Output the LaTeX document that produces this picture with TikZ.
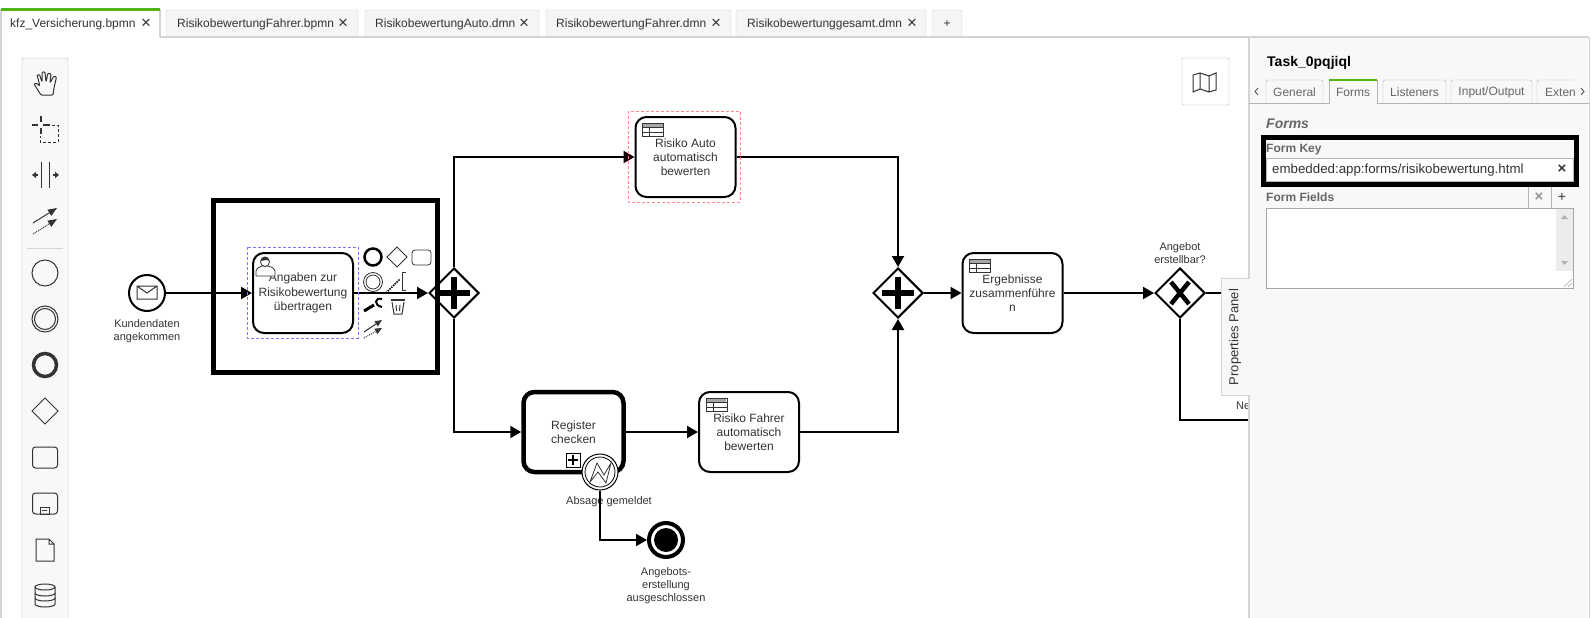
\documentclass[tikz,border=0pt]{standalone}
\usepackage{fontspec}
\setmainfont{Liberation Sans}
\usetikzlibrary{shapes.geometric,arrows.meta,positioning,calc}

\definecolor{bordergray}{HTML}{D4D4D4}
\definecolor{panelgray}{HTML}{F8F8F8}
\definecolor{tabgray}{HTML}{F5F5F5}
\definecolor{labelgray}{HTML}{666666}
\definecolor{textdark}{HTML}{333333}
\definecolor{tabgreen}{HTML}{52B415}
\definecolor{framered}{HTML}{FF8A8A}
\definecolor{frameblue}{HTML}{7A7AF5}

\begin{document}
\begin{tikzpicture}[
    x=1pt, y=-1pt,
    >={Triangle[length=11pt,width=12pt]},
    txt/.style={font=\fontsize{12}{14.2}\selectfont, text=textdark, align=center, inner sep=0pt},
    small/.style={font=\fontsize{11}{13.3}\selectfont, text=textdark, align=center, inner sep=0pt},
    task/.style={txt, rectangle, draw=black, fill=white, line width=2pt, rounded corners=11pt, minimum width=100pt, minimum height=80pt},
    gateway/.style={diamond, aspect=1, draw=black, fill=white, line width=2pt, minimum size=50pt, inner sep=0pt},
    event/.style={circle, draw=black, fill=white, line width=2pt, minimum size=36pt, inner sep=0pt},
    flow/.style={->, line width=2pt},
    filetab/.style={font=\fontsize{12}{14}\selectfont, text=textdark, anchor=west, inner sep=0pt},
    closex/.style={font=\fontsize{17}{17}\selectfont, text=textdark, anchor=center, inner sep=0pt},
    tool/.style={draw=textdark, line width=1pt},
    marker/.style={line width=6.5pt, draw=black},
    panellabel/.style={font=\fontsize{12}{14}\selectfont\bfseries, text=labelgray, anchor=west, inner sep=0pt},
    paneltab/.style={font=\fontsize{12}{14}\selectfont, text=labelgray, inner sep=0pt}
]
\useasboundingbox (0,0) rectangle (1595,618);
\clip (0,0) rectangle (1595,618);
\fill[white] (0,0) rectangle (1595,618);

% File tabs
\foreach \tabname/\xa/\xb/\xt/\xc/\tabtext in {
    tabfahrer/166/358/177/343/RisikobewertungFahrer.bpmn,
    tabauto/365/539/375/524/RisikobewertungAuto.dmn,
    tabfahrerdmn/546/731/556/716/RisikobewertungFahrer.dmn,
    tabgesamt/736/926/747/912/Risikobewertunggesamt.dmn} {
  \draw[bordergray, fill=tabgray, rounded corners=1.5pt] (\xa,37) -- (\xa,10) -- (\xb,10) -- (\xb,37);
  \node[filetab] (\tabname) at (\xt,24) {\tabtext};
  \node[closex] (\tabname x) at (\xc,24) {×};
}
\draw[bordergray, fill=tabgray, rounded corners=1.5pt] (932,37) -- (932,10) -- (962,10) -- (962,37);
\node[filetab, anchor=center] (tabplus) at (947,24) {+};
\draw[bordergray, line width=1.5pt] (1,37) -- (1589,37);
\draw[bordergray, line width=1.5pt, fill=white] (1,618) -- (1,10) -- (160,10) -- (160,37);
\fill[white] (1.8,11) rectangle (159.2,39);
\fill[tabgreen] (1,8) rectangle (160,11);
\node[filetab] (tabmain) at (10,24) {kfz\_Versicherung.bpmn};
\node[closex] (tabmainx) at (146,24) {×};

% Tool palette
\draw[bordergray!85!black, fill=panelgray, rounded corners=1pt] (22,640) -- (22,58) -- (68,58) -- (68,640);
\draw[bordergray] (27,248) -- (63,248);
\draw[tool, line join=round, rounded corners=1pt] (41,95) -- (34,84) -- (36,83) -- (40,86) -- (37,75) -- (39.5,74.5) -- (42,82) -- (42,72) -- (45,72) -- (46,82) -- (48,73) -- (51,74) -- (50,83) -- (54,76) -- (56.5,77) -- (54,88) -- (53,95) -- cycle;
\draw[textdark, line width=2pt] (32,125) -- (38,125) (43,125) -- (50,125) (41,116) -- (41,122) (41,128) -- (41,134);
\draw[textdark, densely dashed] (47,125) -- (58,125) -- (58,142) -- (40,142) -- (40,136);
\draw[textdark] (41.5,162) -- (41.5,188) (49,162) -- (49,188);
\draw[-{Triangle[length=4pt,width=6pt]}, textdark, line width=1.3pt] (38,175) -- (32,175);
\draw[-{Triangle[length=4pt,width=6pt]}, textdark, line width=1.3pt] (53,175) -- (59,175);
\draw[-{Triangle[length=9pt,width=7pt]}, textdark, line width=1pt] (33,223) -- (57,208);
\draw[-{Triangle[length=9pt,width=7pt]}, textdark, line width=1pt, densely dotted] (33,234) -- (57,219);
\draw[tool] (45,273) circle (13);
\draw[tool] (45,319) circle (13) (45,319) circle (10.5);
\draw[textdark, line width=3.5pt] (45,365) circle (11.5);
\draw[tool] (45,398) -- (58,411) -- (45,424) -- (32,411) -- cycle;
\draw[tool, rounded corners=3pt] (32.5,447) rectangle (57.5,468);
\draw[tool, rounded corners=3pt] (32.5,493) rectangle (57.5,514);
\draw[tool] (40,507) rectangle (49,514) (42,510.5) -- (47,510.5);
\draw[tool] (36,539) -- (49,539) -- (54,544) -- (54,561) -- (36,561) -- cycle (49,539) -- (49,544) -- (54,544);
\draw[tool] (35,587) arc[start angle=180, end angle=0, x radius=10, y radius=-3] -- (55,604) arc[start angle=0, end angle=-180, x radius=10, y radius=-3] -- cycle;
\draw[tool] (35,587) arc[start angle=180, end angle=360, x radius=10, y radius=-3] (35,593) arc[start angle=180, end angle=360, x radius=10, y radius=-3] (35,598) arc[start angle=180, end angle=360, x radius=10, y radius=-3];

% Map button
\draw[bordergray!85!black, fill=white, rounded corners=1pt] (1182,58) rectangle (1229,105);
\draw[textdark, line width=1pt] (1193,75) -- (1200,73) -- (1209,76) -- (1216,73) -- (1216,90) -- (1209,92) -- (1200,89) -- (1193,92) -- cycle (1200,73) -- (1200,89) (1209,76) -- (1209,92);

% Nodes
\node[event] (start) at (147,293) {};
\node[small, below=7pt of start] (startlabel) {Kundendaten\\angekommen};
\node[task] (taskangaben) at (303,293) {Angaben zur\\Risikobewertung\\übertragen};
\node[gateway] (gwsplit) at (454,293) {};
\node[task] (taskauto) at (685.5,157) {Risiko Auto\\automatisch\\bewerten};
\node[task, line width=4.5pt] (taskregister) at (573.5,432) {Register\\checken};
\node[task] (taskfahrer) at (749,432) {Risiko Fahrer\\automatisch\\bewerten};
\node[gateway] (gwjoin) at (898,293) {};
\node[task] (taskergebnis) at (1012.5,293) {Ergebnisse\\zusammenführe\\n};
\node[gateway] (gwangebot) at (1180,293) {};
\node[small, above=3pt of gwangebot] (angebotlabel) {Angebot\\erstellbar?};
\node[event, line width=4pt, minimum size=34pt] (endevent) at (666,540) {};
\node[small, below=8pt of endevent] (endlabel) {Angebots-\\erstellung\\ausgeschlossen};
\node[small] (boundarylabel) at (609,502) {Absage gemeldet};
\coordinate (angebotyes) at (1230,293);
\coordinate (angebotno) at (1255,420);
\node[small, anchor=west] (nolabel) at (1236,406) {Ne};

% Sequence flows
\draw[flow] (start) -- (taskangaben);
\draw[flow] (taskangaben) -- (gwsplit);
\draw[flow] (gwsplit) |- (taskauto);
\draw[flow] (gwsplit) |- (taskregister);
\draw[flow] (taskregister) -- (taskfahrer);
\draw[flow] (taskauto) -| (gwjoin);
\draw[flow] (taskfahrer) -| (gwjoin);
\draw[flow] (gwjoin) -- (taskergebnis);
\draw[flow] (taskergebnis) -- (gwangebot);
\draw[line width=2pt] (gwangebot) -- (angebotyes);
\draw[line width=2pt] (gwangebot) |- (angebotno);

% Gateway markers
\draw[marker] ([yshift=-16pt]gwsplit.center) -- ([yshift=16pt]gwsplit.center) ([xshift=-16pt]gwsplit.center) -- ([xshift=16pt]gwsplit.center);
\draw[marker] ([yshift=-16pt]gwjoin.center) -- ([yshift=16pt]gwjoin.center) ([xshift=-16pt]gwjoin.center) -- ([xshift=16pt]gwjoin.center);
\draw[marker, line width=4.5pt] ($(gwangebot.center)+(-9,-11)$) -- ($(gwangebot.center)+(9,11)$) ($(gwangebot.center)+(9,-11)$) -- ($(gwangebot.center)+(-9,11)$);

% Start event and end event
\draw[line width=1pt, textdark] (137,286) rectangle (157,299) (137,286) -- (147,293) -- (157,286);
\fill[black] (endevent.center) circle (12);

% Decision table icons
\foreach \t in {taskauto,taskfahrer,taskergebnis} {
  \fill[gray!70] ([shift={(8,7)}]\t.north west) rectangle ([shift={(28,11)}]\t.north west);
  \draw[textdark, line width=1pt] ([shift={(8,7)}]\t.north west) rectangle ([shift={(29,20)}]\t.north west)
    ([shift={(8,11.5)}]\t.north west) -- ([shift={(29,11.5)}]\t.north west)
    ([shift={(8,16)}]\t.north west) -- ([shift={(29,16)}]\t.north west)
    ([shift={(15,11.5)}]\t.north west) -- ([shift={(15,20)}]\t.north west);
}

% User icon
\draw[textdark, line width=.8pt, fill=white] (256,276) -- (256,271) .. controls (257,267) and (261,267) .. (262,266) -- (268,266) .. controls (270,267) and (274,267) .. (275,271) -- (275,276) -- cycle;
\draw[textdark, line width=.8pt, fill=white] (265,262) circle (4.5);
\fill[textdark] (260.5,261) arc[start angle=180, end angle=360, radius=4.5] -- (267,260) -- cycle;

% Selection frames
\draw[frameblue, dash pattern=on 3pt off 2pt] (247,247) rectangle (358,338);
\draw[framered, dash pattern=on 3pt off 2pt] (628,111) rectangle (740,202);

% Context pad
\draw[black, line width=2.5pt, fill=white] (373,257) circle (8.5);
\draw[textdark, fill=white, line width=.8pt] (397,247) -- (407,257) -- (397,267) -- (387,257) -- cycle;
\draw[textdark, fill=white, line width=.8pt, rounded corners=3pt] (412,250) rectangle (431,265);
\draw[textdark, fill=white, line width=.8pt] (373,282) circle (9.5) (373,282) circle (7);
\draw[black, line width=1.5pt, densely dotted] (386,293) -- (400,279);
\draw[textdark, line width=1pt] (406,272) -- (402,272) -- (402,290) -- (406,290);
\draw[black, line width=3pt] (364,311) -- (374,305);
\draw[black, line width=2pt] (382,299) .. controls (375,297) and (373,305) .. (382,307);
\draw[textdark, line width=1pt] (392,302) -- (394,314) -- (402,314) -- (404,302) (396,305) -- (396.5,311) (400,305) -- (399.5,311);
\fill[textdark] (391,299) rectangle (405,301);
\draw[-{Triangle[length=7pt,width=6pt]}, textdark, line width=1pt] (364,332) -- (382,320);
\draw[-{Triangle[length=7pt,width=6pt]}, textdark, line width=1pt, densely dotted] (364,338) -- (382,328);

% Highlight around the first task
\draw[black, line width=5pt] (213.5,200) rectangle (437,372);

% Register checken with its boundary event
\draw[black, line width=1pt, fill=white] (566,453) rectangle (580,467);
\draw[black, line width=1.5pt] (568,460) -- (578,460) (573,455) -- (573,465);
\node[event, line width=1pt] (boundary) at (600,472) {};
\draw[black, line width=.8pt] (boundary.center) circle (15);
\draw[textdark, line width=.8pt] (590,482) -- (597,463) -- (604,475) -- (611,463) -- (606,483) -- (598,472) -- cycle;
\draw[flow] (boundary) |- (endevent);

% Properties panel
\fill[panelgray] (1249,38) rectangle (1589,640);
\draw[bordergray, line width=1.5pt] (1249,37) -- (1249,640);
\draw[bordergray, line width=1pt] (1589,37) -- (1589,640);
\draw[bordergray, fill=panelgray] (1249,278) -- (1221,278) -- (1221,395) -- (1249,395);
\fill[panelgray] (1222,278.5) rectangle (1250,394.5);
\node[txt, rotate=90] (propertiestab) at (1235,337) {\fontsize{13}{15}\selectfont Properties Panel};
\node[font=\fontsize{14}{16}\selectfont\bfseries, anchor=west, inner sep=0pt] (paneltitle) at (1267,63) {Task\_0pqjiql};

% Panel tabs
\foreach \tabname/\xa/\xb/\tabtext in {
    tabgeneral/1266/1323/General,
    tablisteners/1383/1446/Listeners,
    tabio/1451/1532/Input\slash Output} {
  \draw[bordergray!85!black, rounded corners=1.5pt] (\xa,103) -- (\xa,80) -- (\xb,80) -- (\xb,103);
  \node[paneltab] (\tabname) at ({(\xa+\xb)/2},92) {\tabtext};
}
\draw[bordergray!85!black, rounded corners=1.5pt] (1537,103) -- (1537,80) -- (1574,80);
\node[paneltab, anchor=west] (tabexten) at (1545,92) {Exten};
\draw[bordergray!85!black] (1249,103) -- (1589,103);
\draw[bordergray!85!black, fill=panelgray] (1329,104) -- (1329,80) -- (1377,80) -- (1377,104);
\fill[panelgray] (1329.5,102) rectangle (1376.5,104.5);
\fill[tabgreen] (1329,79) rectangle (1377,81);
\node[paneltab] (tabforms) at (1353,92) {Forms};
\draw[labelgray, line width=1pt] (1258,88) -- (1255,91.5) -- (1258,95) (1581,88) -- (1584,91.5) -- (1581,95);

% Form fields
\node[panellabel, font=\fontsize{14}{16}\selectfont\bfseries\itshape] (formshead) at (1266,124) {Forms};
\node[panellabel] (formkey) at (1266,149.5) {Form Key};
\draw[bordergray!85!black, fill=white] (1266,158) rectangle (1573,181);
\node[txt, anchor=west, font=\fontsize{13.3}{15}\selectfont] (formkeyvalue) at (1272,170) {embedded:app:forms/risikobewertung.html};
\node[txt, font=\fontsize{15}{15}\selectfont\bfseries] (formkeyx) at (1562,169.5) {×};
\node[panellabel] (formfields) at (1266,197) {Form Fields};
\draw[bordergray!85!black] (1528,187) -- (1528,208) (1551,187) -- (1551,208);
\node[txt, font=\fontsize{15}{15}\selectfont\bfseries, text=labelgray!70] (fieldsx) at (1539,197) {×};
\node[txt, font=\fontsize{14}{15}\selectfont] (fieldsplus) at (1562,197) {+};
\draw[gray!70, fill=white] (1266,208) rectangle (1573,288);
\fill[gray!15] (1556,208.5) rectangle (1572.5,271);
\fill[gray!60] (1561,219) -- (1564.5,215) -- (1568,219) -- cycle (1561,261) -- (1564.5,265) -- (1568,261) -- cycle;
\draw[gray!70, line width=.5pt] (1564,287) -- (1572,279) (1568,287) -- (1572,283);

% Highlight around the form key
\draw[black, line width=5pt] (1263.5,137) rectangle (1576,184);

\end{tikzpicture}
\end{document}
